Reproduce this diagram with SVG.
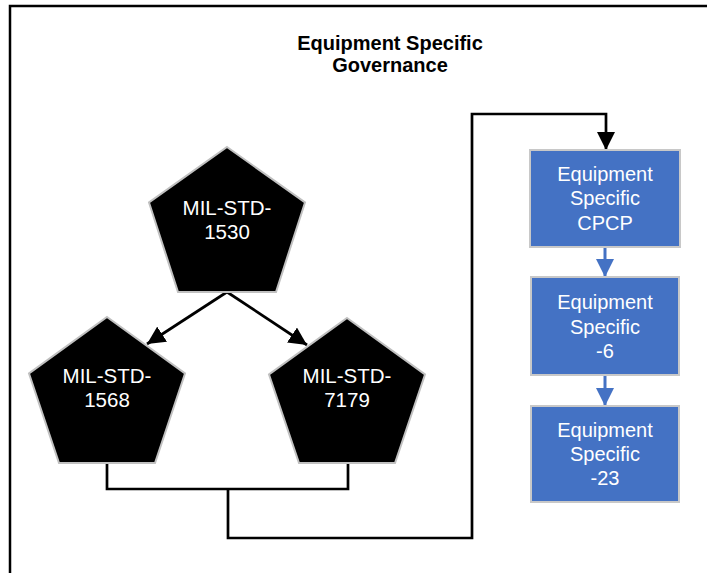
<svg xmlns="http://www.w3.org/2000/svg" width="707" height="573" viewBox="0 0 707 573">
  <style>
    .title { font-family: "Liberation Sans", Arial, sans-serif; font-weight: bold; font-size: 20px; fill: #000; text-anchor: middle; }
    .pent { fill: #000; stroke: #c0c0c0; stroke-width: 2; stroke-linejoin: miter; }
    .ptxt { font-family: "Liberation Sans", Arial, sans-serif; font-size: 20.5px; fill: #fff; text-anchor: middle; }
    .box { fill: #4472C4; stroke: #c8c8c8; stroke-width: 2; }
    .btxt { font-family: "Liberation Sans", Arial, sans-serif; font-size: 20px; fill: #fff; text-anchor: middle; }
    .conn { fill: none; stroke: #000; stroke-width: 2.7; }
    .bconn { fill: none; stroke: #4472C4; stroke-width: 3; }
  </style>
  <defs>
    <marker id="ah" viewBox="0 0 10 10" refX="10" refY="5" markerWidth="18" markerHeight="18" markerUnits="userSpaceOnUse" orient="auto">
      <path d="M0,0 L10,5 L0,10 z" fill="#000"/>
    </marker>
    <marker id="ahb" viewBox="0 0 10 10" refX="10" refY="5" markerWidth="18" markerHeight="18" markerUnits="userSpaceOnUse" orient="auto">
      <path d="M0,0 L10,5 L0,10 z" fill="#4472C4"/>
    </marker>
  </defs>

  <rect width="707" height="573" fill="#fff"/>
  <path d="M10,573 V6 H707" fill="none" stroke="#000" stroke-width="2.5"/>

  <g id="title">
    <text class="title" x="390" y="50">Equipment Specific</text>
    <text class="title" x="390" y="72">Governance</text>
  </g>

  <g id="connectors">
    <path class="conn" d="M227,292 L147,344" marker-end="url(#ah)"/>
    <path class="conn" d="M227,292 L307,345" marker-end="url(#ah)"/>
    <path class="conn" d="M107,462 V489 H348 V462"/>
    <path class="conn" d="M228,489 V538 H472 V114 H606 V150" marker-end="url(#ah)"/>
    <path class="bconn" d="M605,247 V277" marker-end="url(#ahb)"/>
    <path class="bconn" d="M605,375 V406" marker-end="url(#ahb)"/>
  </g>

  <g id="mil-std-1530">
    <polygon class="pent" points="227,147 305,202.5 276,292 178,292 149,202.5"/>
    <text class="ptxt" x="227" y="215">MIL-STD-</text>
    <text class="ptxt" x="227" y="239">1530</text>
  </g>

  <g id="mil-std-1568">
    <polygon class="pent" points="107,317 185,373.5 155,463 59,463 29,373.5"/>
    <text class="ptxt" x="107" y="383">MIL-STD-</text>
    <text class="ptxt" x="107" y="407">1568</text>
  </g>

  <g id="mil-std-7179">
    <polygon class="pent" points="347,318 425,374.5 395,463 299,463 269,374.5"/>
    <text class="ptxt" x="347" y="383">MIL-STD-</text>
    <text class="ptxt" x="347" y="407">7179</text>
  </g>

  <g id="eq-cpcp">
    <rect class="box" x="530" y="150" width="150" height="97"/>
    <text class="btxt" x="605" y="181">Equipment</text>
    <text class="btxt" x="605" y="205">Specific</text>
    <text class="btxt" x="605" y="230">CPCP</text>
  </g>

  <g id="eq-6">
    <rect class="box" x="531" y="277" width="148" height="98"/>
    <text class="btxt" x="605" y="309">Equipment</text>
    <text class="btxt" x="605" y="334">Specific</text>
    <text class="btxt" x="605" y="358">-6</text>
  </g>

  <g id="eq-23">
    <rect class="box" x="531" y="406" width="148" height="96"/>
    <text class="btxt" x="605" y="437">Equipment</text>
    <text class="btxt" x="605" y="461">Specific</text>
    <text class="btxt" x="605" y="485">-23</text>
  </g>
</svg>
